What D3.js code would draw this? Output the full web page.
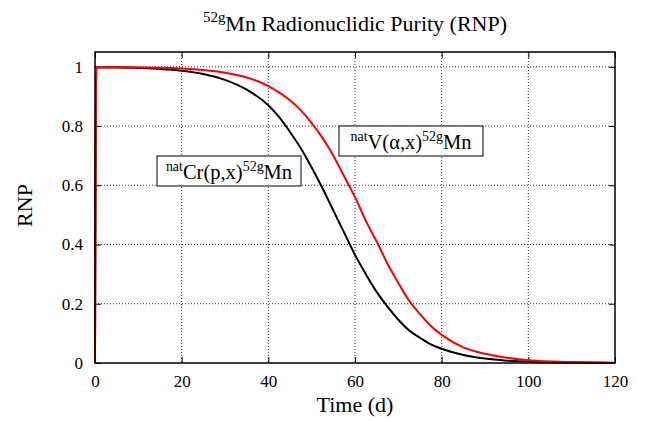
<!DOCTYPE html>
<html>
<head>
<meta charset="utf-8">
<script src="https://cdn.jsdelivr.net/npm/d3@7"></script>
<style>
  body { margin: 0; background: #fff; }
</style>
</head>
<body>
<div id="chart"></div>
<script>
const FONT = '"Liberation Serif", "Times New Roman", Times, Tinos, "Nimbus Roman", "Noto Serif", "DejaVu Serif", serif';

// values
const days  = [0, 0.3, 5, 10, 15, 20, 25, 30, 35, 40, 42.5, 45, 47.5, 50, 52.5, 55, 57.5, 60, 62.5, 65, 67.5, 70, 72.5, 75, 77.5, 80, 85, 90, 95, 100, 110, 120];
const rnpCr = [0, 0.998, 0.998, 0.996, 0.993, 0.987, 0.976, 0.956, 0.923, 0.87, 0.83, 0.78, 0.725, 0.66, 0.59, 0.515, 0.44, 0.365, 0.3, 0.24, 0.19, 0.146, 0.11, 0.085, 0.063, 0.048, 0.027, 0.015, 0.008, 0.004, 0.0013, 0.0004];
const rnpV  = [0, 0.999, 0.999, 0.998, 0.997, 0.994, 0.989, 0.98, 0.964, 0.935, 0.913, 0.887, 0.853, 0.81, 0.76, 0.70, 0.63, 0.56, 0.48, 0.41, 0.335, 0.27, 0.21, 0.165, 0.125, 0.095, 0.053, 0.031, 0.018, 0.009, 0.003, 0.001];
const xTicks = [0, 20, 40, 60, 80, 100, 120];
const yTicks = [0, 0.2, 0.4, 0.6, 0.8, 1];

const W = 645, H = 421;
const margin = {top: 52, right: 30, bottom: 58, left: 95};
const width = W - margin.left - margin.right;
const height = H - margin.top - margin.bottom;

const svg = d3.select("#chart").append("svg")
    .attr("width", W)
    .attr("height", H)
    .attr("font-family", FONT);

const g = svg.append("g")
    .attr("transform", `translate(${margin.left},${margin.top})`);

const x = d3.scaleLinear().domain([0, 120]).range([0, width]);
const y = d3.scaleLinear().domain([0, 1.05]).range([height, 0]);

// dotted grid
g.append("g").selectAll("line")
    .data(xTicks.slice(1, -1))
    .join("line")
    .attr("x1", d => x(d)).attr("x2", d => x(d))
    .attr("y1", 0).attr("y2", height)
    .attr("stroke", "#000").attr("stroke-width", 0.8)
    .attr("stroke-dasharray", "1,2");

g.append("g").selectAll("line")
    .data(yTicks.slice(1))
    .join("line")
    .attr("x1", 0).attr("x2", width)
    .attr("y1", d => y(d)).attr("y2", d => y(d))
    .attr("stroke", "#000").attr("stroke-width", 0.8)
    .attr("stroke-dasharray", "1,2");

// axes with inward ticks, mirrored
const tickLen = 6;
g.append("g")
    .attr("transform", `translate(0,${height})`)
    .call(d3.axisBottom(x).tickValues(xTicks).tickSizeInner(-tickLen).tickSizeOuter(0).tickPadding(12))
    .call(a => a.select(".domain").remove());
g.append("g")
    .call(d3.axisTop(x).tickValues(xTicks).tickSizeInner(-tickLen).tickSizeOuter(0).tickFormat(""))
    .call(a => a.select(".domain").remove());
g.append("g")
    .call(d3.axisLeft(y).tickValues(yTicks).tickSizeInner(-tickLen).tickSizeOuter(0).tickPadding(12).tickFormat(d3.format("~g")))
    .call(a => a.select(".domain").remove());
g.append("g")
    .attr("transform", `translate(${width},0)`)
    .call(d3.axisRight(y).tickValues(yTicks).tickSizeInner(-tickLen).tickSizeOuter(0).tickFormat(""))
    .call(a => a.select(".domain").remove());

g.selectAll("g").attr("font-family", FONT).attr("font-size", 17);
g.selectAll(".tick line").attr("stroke", "#000").attr("stroke-width", 1);
g.selectAll(".tick text").attr("fill", "#000");

// curves
const line = d3.line()
    .x(d => x(d[0]))
    .y(d => y(d[1]))
    .curve(d3.curveMonotoneX);

g.append("path")
    .datum(days.map((d, i) => [d, rnpCr[i]]))
    .attr("fill", "none").attr("stroke", "#000").attr("stroke-width", 2)
    .attr("d", line);

g.append("path")
    .datum(days.map((d, i) => [d, rnpV[i]]))
    .attr("fill", "none").attr("stroke", "#ff0000").attr("stroke-width", 2)
    .attr("d", line);

// frame
g.append("rect")
    .attr("width", width).attr("height", height)
    .attr("fill", "none").attr("stroke", "#000").attr("stroke-width", 1.5);

// rich text with superscripts
function richText(t, parts, size) {
  let up = false;
  parts.forEach(p => {
    const s = t.append("tspan").attr("font-size", p.sup ? size * 0.68 : size).text(p.t);
    if (p.sup && !up) { s.attr("dy", -size * 0.4); up = true; }
    else if (!p.sup && up) { s.attr("dy", size * 0.4); up = false; }
  });
}

// label boxes
function label(bx, by, bw, bh, parts) {
  const lg = svg.append("g");
  lg.append("rect")
      .attr("x", bx).attr("y", by).attr("width", bw).attr("height", bh)
      .attr("fill", "#fff").attr("stroke", "#000").attr("stroke-width", 1);
  const t = lg.append("text")
      .attr("x", bx + bw / 2).attr("y", by + bh - 7)
      .attr("text-anchor", "middle");
  richText(t, parts, 20.5);
}
label(157, 156, 144, 30, [{t: "nat", sup: true}, {t: "Cr(p,x)"}, {t: "52g", sup: true}, {t: "Mn"}]);
label(339, 126, 144, 30, [{t: "nat", sup: true}, {t: "V(α,x)"}, {t: "52g", sup: true}, {t: "Mn"}]);

// title
const title = svg.append("text")
    .attr("x", margin.left + width / 2).attr("y", 31)
    .attr("text-anchor", "middle");
richText(title, [{t: "52g", sup: true}, {t: "Mn Radionuclidic Purity (RNP)"}], 22);

// axis titles
svg.append("text")
    .attr("x", margin.left + width / 2).attr("y", 412)
    .attr("text-anchor", "middle")
    .attr("font-size", 22)
    .text("Time (d)");

svg.append("text")
    .attr("transform", `translate(32,${margin.top + height / 2 - 2}) rotate(-90)`)
    .attr("text-anchor", "middle")
    .attr("font-size", 22)
    .text("RNP");
</script>
</body>
</html>
